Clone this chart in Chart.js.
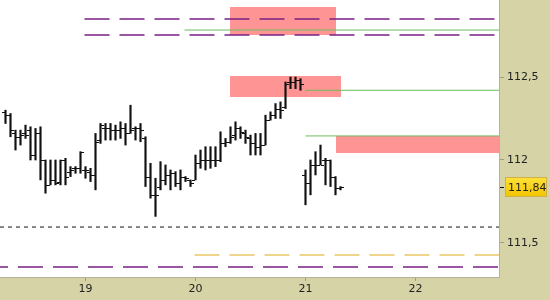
<!DOCTYPE html>
<html>
<head>
<meta charset="utf-8">
<script src="https://cdn.jsdelivr.net/npm/chart.js@4/dist/chart.umd.min.js"></script>
<style>
    html, body { margin: 0; padding: 0; background: #fff; }
    canvas { display: block; }
</style>
</head>
<body>
<canvas id="chart" width="550" height="300"></canvas>
<script>
// hourly bars, one slot per bar; day labels sit on the first bar of each day
const dayLabels = ["19", "20", "21", "22"];
const daySlots = [17, 39, 61, 83];
const firstSlot = 1;
const slotMin = -0.1;
const slotMax = 99.7;

const opens = [
    112.29, 112.27, 112.16, 112.14, 112.16, 112.18, 112.03, 112.16, 112.00, 111.85,
    111.88, 111.87, 112.00, 111.93, 111.95, 111.95, 111.94, 111.93, 111.91, 112.12,
    112.19, 112.19, 112.18, 112.18, 112.19, 112.16, 112.19, 112.19, 112.13, 111.90,
    111.79, 111.84, 111.88, 111.91, 111.92, 111.86, 111.90, 111.88, 111.88, 111.98,
    112.00, 112.00, 112.00, 112.00, 112.10, 112.11, 112.15, 112.19, 112.16, 112.13,
    112.10, 112.08, 112.09, 112.24, 112.27, 112.31, 112.32, 112.47, 112.47, 112.48,
    111.91, 111.86, 111.97, 111.97, 112.00, 112.00, 111.90, 111.83
];
const highs = [
    112.30, 112.28, 112.18, 112.18, 112.21, 112.20, 112.19, 112.20, 112.00, 112.00,
    112.00, 112.00, 112.01, 111.96, 111.96, 112.05, 111.96, 111.95, 112.16, 112.22,
    112.22, 112.22, 112.21, 112.23, 112.22, 112.33, 112.20, 112.22, 112.14, 111.98,
    111.89, 111.99, 111.97, 111.94, 111.93, 111.94, 111.90, 111.88, 112.03, 112.06,
    112.08, 112.08, 112.08, 112.17, 112.13, 112.20, 112.23, 112.20, 112.18, 112.15,
    112.16, 112.16, 112.27, 112.29, 112.34, 112.35, 112.47, 112.50, 112.50, 112.49,
    111.94, 112.00, 112.05, 112.09, 112.01, 112.00, 111.90, 111.84
];
const lows = [
    112.22, 112.14, 112.06, 112.09, 112.13, 112.00, 112.00, 111.88, 111.80, 111.85,
    111.85, 111.85, 111.85, 111.90, 111.92, 111.92, 111.89, 111.87, 111.82, 112.10,
    112.12, 112.12, 112.12, 112.13, 112.09, 112.16, 112.12, 112.11, 111.84, 111.77,
    111.66, 111.82, 111.85, 111.82, 111.84, 111.82, 111.87, 111.84, 111.88, 111.95,
    111.94, 111.95, 111.96, 111.99, 112.08, 112.10, 112.12, 112.13, 112.10, 112.03,
    112.03, 112.03, 112.09, 112.24, 112.25, 112.25, 112.31, 112.43, 112.43, 112.42,
    111.73, 111.79, 111.91, 111.97, 111.85, 111.84, 111.79, 111.82
];
const closes = [
    112.27, 112.18, 112.14, 112.15, 112.15, 112.03, 112.16, 112.00, 111.85, 111.88,
    111.86, 112.00, 111.90, 111.94, 111.95, 112.05, 111.94, 111.91, 112.11, 112.21,
    112.19, 112.18, 112.18, 112.19, 112.16, 112.18, 112.19, 112.18, 111.90, 111.79,
    111.79, 111.88, 111.91, 111.92, 111.86, 111.90, 111.89, 111.86, 111.98, 112.00,
    112.00, 112.00, 112.00, 112.10, 112.11, 112.14, 112.19, 112.17, 112.14, 112.10,
    112.08, 112.09, 112.24, 112.27, 112.31, 112.30, 112.46, 112.47, 112.48, 112.46,
    111.86, 111.97, 111.97, 111.97, 112.00, 111.90, 111.83, 111.84
];

const priceMin = 111.295;
const priceMax = 112.964;
const priceTicks = [111.5, 112, 112.5];

// horizontal levels (price, starting slot); all run to the right edge
const purpleLevels = [112.849, 112.753, 111.355];
const purpleFrom = [16.8, 16.8, -0.1];
const greenLevels = [112.783, 112.42, 112.145];
const greenFrom = [36.8, 61, 61];
const blackLevel = 111.596;
const blackFrom = -0.1;
const yellowLevel = 111.428;
const yellowFrom = 38.8;

// shaded zones
const zoneFrom = [45.8, 45.8, 67];
const zoneTo = [67, 68, 99.7];
const zoneLow = [112.753, 112.380, 112.042];
const zoneHigh = [112.922, 112.506, 112.145];

const PANEL = "#d6d3a6";
const EDGE = "#b5b39a";
const FONT = "'DejaVu Sans', sans-serif";

function levelDataset(price, from, color, width, dash, dashOffset) {
    return {
        type: "line",
        data: [{ x: from, y: price }, { x: slotMax, y: price }],
        borderColor: color,
        borderWidth: width,
        borderDash: dash || [],
        borderDashOffset: dashOffset || 0,
        pointRadius: 0,
        tension: 0
    };
}

const slots = opens.map((_, i) => firstSlot + i);

const datasets = [];
purpleLevels.forEach((p, i) => {
    datasets.push(levelDataset(p, purpleFrom[i], "#7a1f84", 1.5, [25, 10], purpleFrom[i] < 0 ? 17 : 0));
});
greenLevels.forEach((p, i) => {
    datasets.push(levelDataset(p, greenFrom[i], "#6cbd5a", 1));
});
datasets.push(levelDataset(blackLevel, blackFrom, "#111", 1, [4, 4]));
datasets.push(levelDataset(yellowLevel, yellowFrom, "#e9c766", 1.5, [25, 10]));

datasets.push({
    type: "bar",
    data: slots.map((s, i) => ({ x: s, y: [lows[i], highs[i]] })),
    backgroundColor: "#111",
    borderWidth: 0,
    barThickness: 1.5
});

const backdrop = {
    id: "backdrop",
    beforeDraw(chart) {
        const { ctx, chartArea: a } = chart;
        ctx.save();
        ctx.fillStyle = PANEL;
        ctx.fillRect(0, 0, chart.width, chart.height);
        ctx.fillStyle = "#fff";
        ctx.fillRect(a.left, a.top, a.right - a.left, a.bottom - a.top);
        ctx.restore();
    },
    beforeDatasetsDraw(chart) {
        const { ctx, chartArea: a } = chart;
        const xs = chart.scales.x;
        const ys = chart.scales.y;
        ctx.save();
        ctx.beginPath();
        ctx.rect(a.left, a.top, a.right - a.left, a.bottom - a.top);
        ctx.clip();
        ctx.fillStyle = "#ff9494";
        zoneFrom.forEach((f, i) => {
            const x0 = Math.round(xs.getPixelForValue(f));
            const x1 = Math.round(xs.getPixelForValue(zoneTo[i]));
            const y0 = Math.round(ys.getPixelForValue(zoneHigh[i]));
            const y1 = Math.round(ys.getPixelForValue(zoneLow[i]));
            ctx.fillRect(x0, y0, x1 - x0, y1 - y0);
        });
        ctx.restore();
    }
};

const ohlcTicks = {
    id: "ohlcTicks",
    afterDatasetsDraw(chart) {
        const { ctx } = chart;
        const xs = chart.scales.x;
        const ys = chart.scales.y;
        ctx.save();
        ctx.strokeStyle = "#111";
        ctx.lineWidth = 1;
        ctx.beginPath();
        slots.forEach((s, i) => {
            const x = Math.floor(xs.getPixelForValue(s));
            const yo = Math.round(ys.getPixelForValue(opens[i])) + 0.5;
            const yc = Math.round(ys.getPixelForValue(closes[i])) + 0.5;
            ctx.moveTo(x - 3, yo);
            ctx.lineTo(x, yo);
            ctx.moveTo(x + 1, yc);
            ctx.lineTo(x + 4, yc);
        });
        ctx.stroke();
        ctx.restore();
    }
};

const lastPrice = {
    id: "lastPrice",
    afterDraw(chart) {
        const { ctx, chartArea: a } = chart;
        const last = closes[closes.length - 1];
        const y = Math.round(chart.scales.y.getPixelForValue(last));
        ctx.save();
        ctx.strokeStyle = "#111";
        ctx.lineWidth = 1;
        ctx.beginPath();
        ctx.moveTo(a.right + 1, y + 0.5);
        ctx.lineTo(a.right + 5, y + 0.5);
        ctx.stroke();
        const g = ctx.createLinearGradient(0, y - 10, 0, y + 10);
        g.addColorStop(0, "#ffe23a");
        g.addColorStop(1, "#f2c400");
        ctx.fillStyle = g;
        ctx.fillRect(a.right + 6, y - 10, 42, 20);
        ctx.strokeStyle = "#cfb04a";
        ctx.strokeRect(a.right + 6.5, y - 9.5, 41, 19);
        ctx.fillStyle = "#222";
        ctx.font = "11px " + FONT;
        ctx.textBaseline = "middle";
        ctx.fillText(String(last).replace(".", ","), a.right + 9, y + 1);
        ctx.restore();
    }
};

function noPadding(scale) {
    scale.paddingTop = 0;
    scale.paddingBottom = 0;
    scale.paddingLeft = 0;
    scale.paddingRight = 0;
}

new Chart(document.getElementById("chart"), {
    data: { datasets },
    options: {
        responsive: false,
        animation: false,
        layout: { padding: 0 },
        plugins: { legend: { display: false }, tooltip: { enabled: false } },
        scales: {
            x: {
                type: "linear",
                min: slotMin,
                max: slotMax,
                offset: false,
                afterFit(scale) { scale.height = 23; noPadding(scale); },
                afterBuildTicks(scale) { scale.ticks = daySlots.map((v) => ({ value: v })); },
                grid: { offset: false, drawOnChartArea: false, drawTicks: true, tickLength: 4, color: "#9f9d88" },
                border: { display: true, color: EDGE },
                ticks: {
                    padding: 2,
                    color: "#222",
                    font: { family: FONT, size: 11 },
                    maxRotation: 0,
                    autoSkip: false,
                    callback: (v) => dayLabels[daySlots.indexOf(v)] ?? ""
                }
            },
            y: {
                type: "linear",
                position: "right",
                min: priceMin,
                max: priceMax,
                afterFit(scale) { scale.width = 51; noPadding(scale); },
                afterBuildTicks(scale) { scale.ticks = priceTicks.map((v) => ({ value: v })); },
                grid: { drawOnChartArea: false, drawTicks: true, tickLength: 5, color: "#9f9d88" },
                border: { display: true, color: EDGE },
                ticks: {
                    padding: 3,
                    color: "#222",
                    font: { family: FONT, size: 11 },
                    callback: (v) => String(v).replace(".", ",")
                }
            }
        }
    },
    plugins: [backdrop, ohlcTicks, lastPrice]
});
</script>
</body>
</html>
